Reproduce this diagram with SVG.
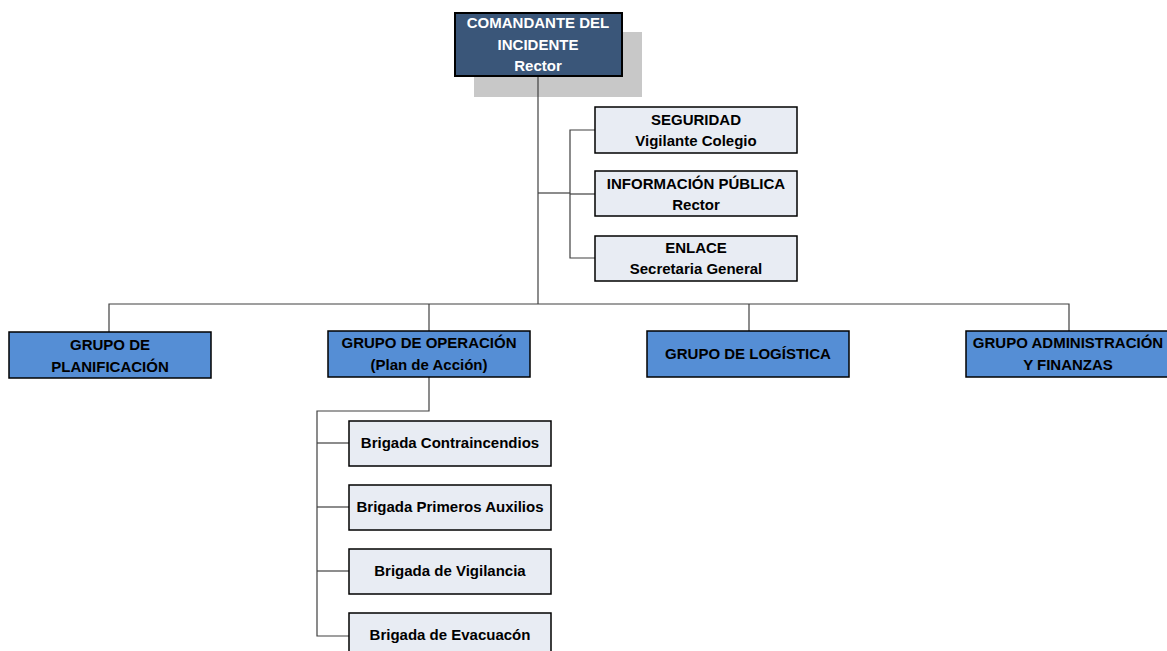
<svg xmlns="http://www.w3.org/2000/svg" width="1167" height="651" viewBox="0 0 1167 651">
<style>
text{font-family:"Liberation Sans",Arial,sans-serif;font-weight:bold;font-size:15px;text-anchor:middle;fill:#000}
.w{fill:#fff}
.lb{fill:#E8ECF3;stroke:#000;stroke-width:1.5}
.bb{fill:#558ED5;stroke:#000;stroke-width:1.5}
.conn{fill:none;stroke:#404040;stroke-width:1.2}
</style>
<rect x="474" y="32" width="168" height="65" fill="#C8C8C8"/>
<g id="connectors" class="conn">
<path d="M538 76V304"/>
<path d="M538 193H570"/>
<path d="M595 130H570V258H595"/>
<path d="M570 194H595"/>
<path d="M109 332V304H1069V332"/>
<path d="M429 304V331"/>
<path d="M749 304V331"/>
<path d="M429 377V411H317V636H349"/>
<path d="M317 443H349"/>
<path d="M317 507H349"/>
<path d="M317 571H349"/>
</g>
<g id="comandante">
<rect x="455" y="13" width="167" height="63" fill="#3A5679" stroke="#000" stroke-width="2"/>
<text class="w" x="538" y="28">COMANDANTE DEL</text>
<text class="w" x="538" y="50">INCIDENTE</text>
<text class="w" x="538" y="71">Rector</text>
</g>
<g id="seguridad">
<rect class="lb" x="595" y="107" width="202" height="46"/>
<text x="696" y="125">SEGURIDAD</text>
<text x="696" y="146">Vigilante Colegio</text>
</g>
<g id="informacion">
<rect class="lb" x="595" y="171" width="202" height="45"/>
<text x="696" y="189">INFORMACIÓN PÚBLICA</text>
<text x="696" y="210">Rector</text>
</g>
<g id="enlace">
<rect class="lb" x="595" y="236" width="202" height="45"/>
<text x="696" y="253">ENLACE</text>
<text x="696" y="274">Secretaria General</text>
</g>
<g id="planificacion">
<rect class="bb" x="9" y="332" width="202" height="46"/>
<text x="110" y="350">GRUPO DE</text>
<text x="110" y="372">PLANIFICACIÓN</text>
</g>
<g id="operacion">
<rect class="bb" x="328" y="331" width="202" height="46"/>
<text x="429" y="348">GRUPO DE OPERACIÓN</text>
<text x="429" y="370">(Plan de Acción)</text>
</g>
<g id="logistica">
<rect class="bb" x="647" y="331" width="202" height="46"/>
<text x="748" y="359">GRUPO DE LOGÍSTICA</text>
</g>
<g id="administracion">
<rect class="bb" x="966" y="331" width="204" height="46"/>
<text x="1068" y="348">GRUPO ADMINISTRACIÓN</text>
<text x="1068" y="370">Y FINANZAS</text>
</g>
<g id="contraincendios">
<rect class="lb" x="349" y="421" width="202" height="45"/>
<text x="450" y="448">Brigada Contraincendios</text>
</g>
<g id="primeros">
<rect class="lb" x="349" y="485" width="202" height="45"/>
<text x="450" y="512">Brigada Primeros Auxilios</text>
</g>
<g id="vigilancia">
<rect class="lb" x="349" y="549" width="202" height="45"/>
<text x="450" y="576">Brigada de Vigilancia</text>
</g>
<g id="evacuacion">
<rect class="lb" x="349" y="613" width="202" height="45"/>
<text x="450" y="640">Brigada de Evacuacón</text>
</g>
</svg>
